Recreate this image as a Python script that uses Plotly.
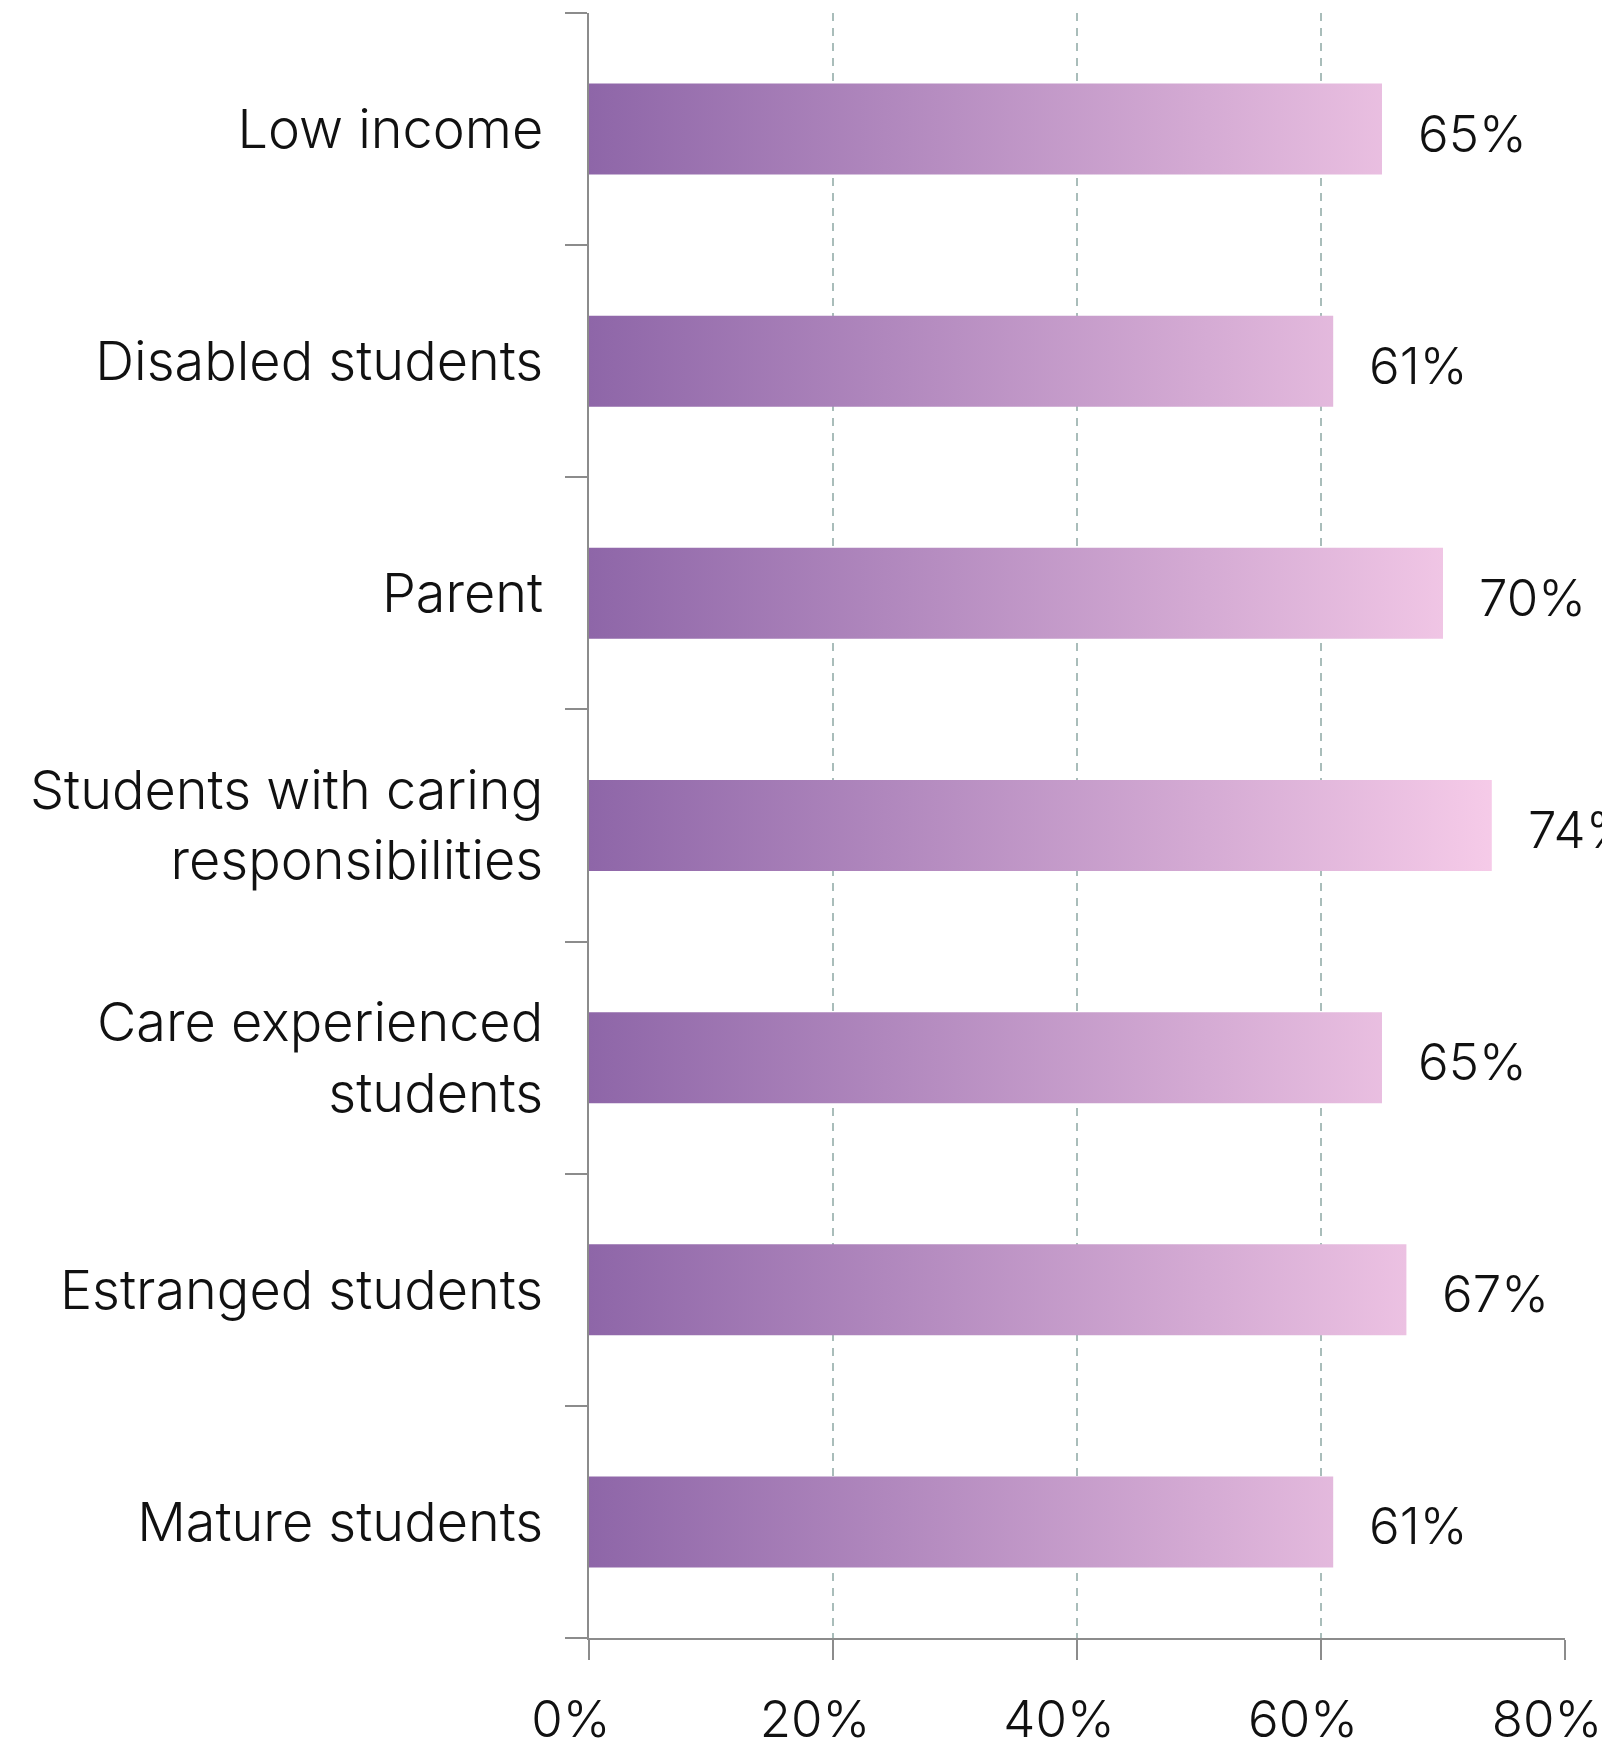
import plotly.graph_objects as go

categories = [
    "Low income",
    "Disabled students",
    "Parent",
    "Students with caring<br>responsibilities",
    "Care experienced<br>students",
    "Estranged students",
    "Mature students",
]
values = [65, 61, 70, 74, 65, 67, 61]
x_tick_vals = [0, 20, 40, 60, 80]
x_tick_text = ["0%", "20%", "40%", "60%", "80%"]

FONT = "Inter"
HALF = 0.196
AXIS_COL = "#8C8C8C"

positions = list(range(len(categories)))

xs, ys = [], []
for pos, v in zip(positions, values):
    xs += [0, v, v, 0, 0, None]
    ys += [pos - HALF, pos - HALF, pos + HALF, pos + HALF, pos - HALF, None]

fig = go.Figure()
fig.add_trace(go.Scatter(
    x=xs, y=ys, mode="lines", fill="toself",
    line=dict(width=0),
    fillgradient=dict(type="horizontal",
                      colorscale=[[0, "#8E66A8"], [1, "#F7CCE9"]],
                      start=0, stop=75),
    hoverinfo="skip", showlegend=False,
))

for pos, v in zip(positions, values):
    fig.add_annotation(x=v, y=pos, text=f"{v}%", showarrow=False,
                       xanchor="left", yanchor="middle", xshift=34, yshift=-4,
                       font=dict(family=FONT, size=51, color="#111111", weight=300))

fig.update_layout(
    width=1610, height=1751,
    margin=dict(l=581, r=53, t=5, b=121),
    paper_bgcolor="white", plot_bgcolor="white",
    font=dict(family=FONT, color="#111111"),
    showlegend=False,
)
fig.update_xaxes(
    range=[0, 80], tickmode="array", tickvals=x_tick_vals, ticktext=x_tick_text,
    showgrid=True, gridcolor="#A9BDBA", gridwidth=1.5, griddash="8px,7px",
    ticks="outside", ticklen=20, tickcolor=AXIS_COL, tickwidth=1.5,
    showline=True, linecolor=AXIS_COL, linewidth=2, zeroline=False,
    tickfont=dict(family=FONT, size=51, color="#111111", weight=300),
    ticklabelstandoff=16, ticklabelshift=-18, automargin=False,
)
fig.update_yaxes(
    range=[6.5, -0.5], tickmode="array", tickvals=positions, ticktext=categories,
    ticks="", showgrid=False, zeroline=False,
    showline=True, linecolor=AXIS_COL, linewidth=2,
    tickfont=dict(family=FONT, size=54, color="#111111", weight=300),
    ticklabelstandoff=33, automargin=False,
    minor=dict(tickmode="array", tickvals=[p - 0.5 for p in positions] + [len(positions) - 0.5],
               ticks="outside", ticklen=22, tickcolor=AXIS_COL, tickwidth=1.5, showgrid=False),
)

fig.write_html("out.html")
